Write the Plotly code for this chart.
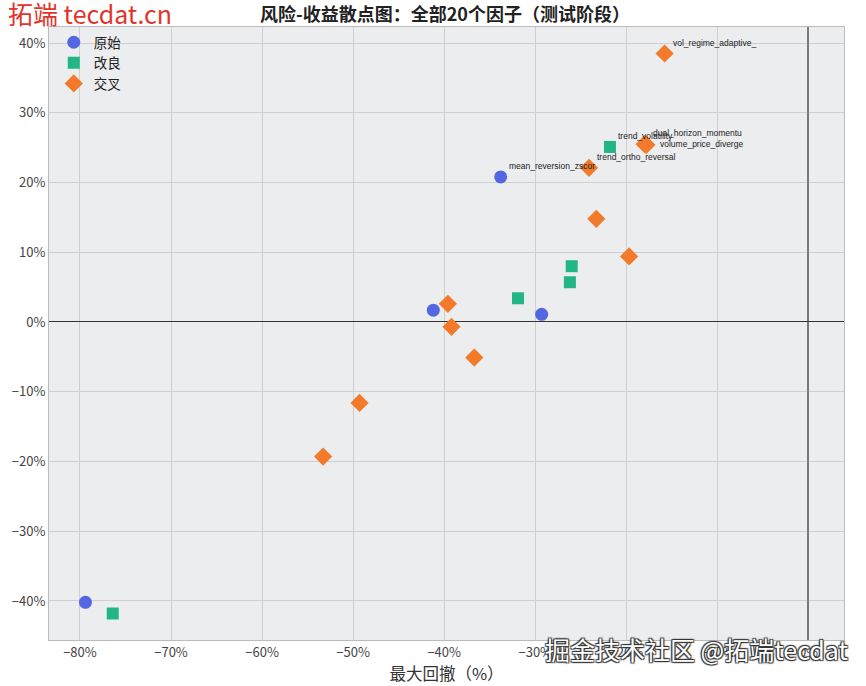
import plotly.graph_objects as go

# ---------------- data (max drawdown %, annual return %) ----------------
ORIG_DD = [-33.8, -41.2, -29.3, -79.4]
ORIG_RET = [20.8, 1.7, 1.1, -40.2]
ORIG_NAME = ["mean_reversion_zscor", "", "", ""]

IMPR_DD = [-21.8, -31.9, -26.0, -26.2, -76.4]
IMPR_RET = [25.1, 3.4, 8.0, 5.7, -41.8]
IMPR_NAME = ["trend_volatility", "", "", "", ""]

CROSS_DD = [-15.8, -18.0, -17.8, -24.1, -23.3, -19.7, -39.6, -39.2, -36.7, -49.3, -53.3]
CROSS_RET = [38.5, 25.5, 25.4, 22.1, 14.8, 9.4, 2.6, -0.7, -5.1, -11.6, -19.3]
CROSS_NAME = ["vol_regime_adaptive_", "dual_horizon_momentu", "volume_price_diverge",
              "trend_ortho_reversal", "", "", "", "", "", "", ""]

X_TICKS = [-80, -70, -60, -50, -40, -30, -20, -10, 0]
Y_TICKS = [-40, -30, -20, -10, 0, 10, 20, 30, 40]


def pct_labels(vals):
    return [f"{v}%".replace("-", "\u2212") for v in vals]


# ---------------- style ----------------
COLORS = {"原始": "#5467E2", "改良": "#22B585", "交叉": "#F27A2A"}
LABEL_SHIFT = {"volume_price_diverge": (12, 1)}
CJK = "Noto Sans CJK SC"

fig = go.Figure()

series = [
    ("原始", ORIG_DD, ORIG_RET, ORIG_NAME, "circle", 13),
    ("改良", IMPR_DD, IMPR_RET, IMPR_NAME, "square", 12),
    ("交叉", CROSS_DD, CROSS_RET, CROSS_NAME, "diamond", 14),
]

for label, xs, ys, names, symbol, size in series:
    fig.add_trace(go.Scatter(
        x=xs, y=ys, mode="markers", name=label,
        marker=dict(symbol=symbol, size=size, color=COLORS[label],
                    line=dict(width=0)),
        hovertemplate="%{x:.1f}%, %{y:.1f}%<extra>" + label + "</extra>",
    ))
    # 点标签
    for x, y, n in zip(xs, ys, names):
        if not n:
            continue
        dx, dy = LABEL_SHIFT.get(n, (6, 11))
        fig.add_annotation(
            x=x, y=y, text=n, showarrow=False,
            xanchor="left", yanchor="middle", xshift=dx, yshift=dy,
            font=dict(family="Liberation Sans", size=8.5, color="#222222"),
        )

# 水印
fig.add_annotation(
    x=0, y=1, xref="paper", yref="paper", xanchor="left", yanchor="middle",
    xshift=-43, yshift=14, text="拓端 tecdat.cn", showarrow=False,
    font=dict(family=CJK, size=25, color="#E3342B"),
)
fig.add_annotation(
    x=1, y=0, xref="paper", yref="paper", xanchor="right", yanchor="middle",
    xshift=7, yshift=-9, text="掘金技术社区 @拓端tecdat", showarrow=False,
    font=dict(family=CJK, size=25, color="#FFFFFF",
              shadow="1px 1px 1px #333, -1px -1px 1px #333, 1px -1px 1px #333, -1px 1px 1px #333"),
)

fig.update_layout(
    width=866, height=686,
    margin=dict(l=44, r=22, t=27, b=43),
    paper_bgcolor="white",
    plot_bgcolor="#ECEDEF",
    font=dict(family=CJK, size=12, color="#333333"),
    title=dict(
        text="<b>风险-收益散点图：全部20个因子（测试阶段）</b>",
        x=0.5138, xanchor="center", y=0.979, yanchor="middle",
        font=dict(family=CJK, size=18, color="#222222"),
    ),
    legend=dict(
        x=0.006, y=1.0, xanchor="left", yanchor="top",
        bgcolor="rgba(0,0,0,0)", font=dict(family=CJK, size=13.5, color="#222222"),
        itemsizing="trace", tracegroupgap=0,
    ),
    showlegend=True,
    xaxis=dict(
        range=[-83.4, 3.9], tickvals=X_TICKS, ticktext=pct_labels(X_TICKS),
        showgrid=True, gridcolor="#CFCFCF", gridwidth=1,
        zeroline=True, zerolinecolor="#7A7A7A", zerolinewidth=1.5,
        showline=True, linecolor="#BBBBBB", mirror=True,
        ticks="", tickfont=dict(size=13, color="#444444"),
        title=dict(text="最大回撤（%）", standoff=2,
                   font=dict(family=CJK, size=16.5, color="#333333")),
    ),
    yaxis=dict(
        range=[-45.6, 42.3], tickvals=Y_TICKS, ticktext=pct_labels(Y_TICKS),
        showgrid=True, gridcolor="#CFCFCF", gridwidth=1,
        zeroline=True, zerolinecolor="#333333", zerolinewidth=1,
        showline=True, linecolor="#BBBBBB", mirror=True,
        ticks="", tickfont=dict(size=13, color="#444444"),
    ),
)

# 去掉页面默认边距，让图从左上角开始
fig.write_html("out.html", config={"displayModeBar": False},
               post_script="document.body.style.margin='0';")
